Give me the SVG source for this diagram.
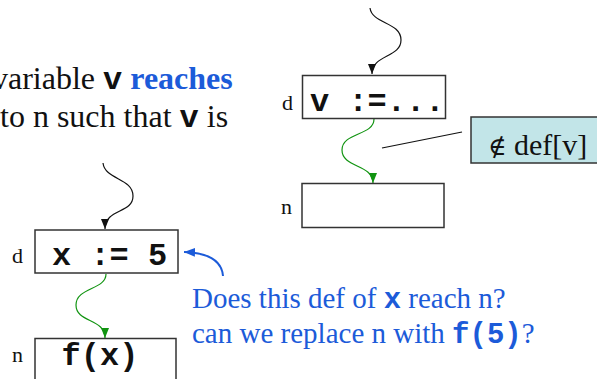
<svg xmlns="http://www.w3.org/2000/svg" width="597" height="379" viewBox="0 0 597 379">
<defs>
<style>
.serif{font-family:"Liberation Serif","Times New Roman",serif;}
.mono{font-family:"Liberation Mono","Courier New",monospace;font-weight:bold;}
.box{fill:#fff;stroke:#333;stroke-width:1.5;}
.lbl{font-family:"Liberation Serif","Times New Roman",serif;font-size:22px;fill:#111;}
.code{font-family:"Liberation Mono","Courier New",monospace;font-weight:bold;font-size:32px;fill:#111;}
.blk{fill:none;stroke:#111;stroke-width:1.2;marker-end:url(#ab);}
.grn{fill:none;stroke:#119411;stroke-width:1.2;marker-end:url(#ag);}
.blu{fill:none;stroke:#1c5bd9;stroke-width:2;marker-end:url(#al);}
</style>
<marker id="ab" viewBox="0 0 10 8" refX="10" refY="4" markerWidth="10" markerHeight="8" markerUnits="userSpaceOnUse" orient="auto"><path d="M0,0 L10,4 L0,8 z" fill="#111"/></marker>
<marker id="ag" viewBox="0 0 10 8" refX="10" refY="4" markerWidth="10" markerHeight="8" markerUnits="userSpaceOnUse" orient="auto"><path d="M0,0 L10,4 L0,8 z" fill="#119411"/></marker>
<marker id="al" viewBox="0 0 10 8" refX="10" refY="4" markerWidth="11" markerHeight="9" markerUnits="userSpaceOnUse" orient="auto"><path d="M0,0 L10,4 L0,8 z" fill="#1c5bd9"/></marker>
</defs>

<g id="intro" class="serif" font-size="32" fill="#111">
<text x="-8" y="89">variable <tspan class="mono">v</tspan> <tspan font-weight="bold" fill="#1c5bd9">reaches</tspan></text>
<text x="0" y="127">to n such that <tspan class="mono">v</tspan> is</text>
</g>

<g id="connectors">
<path class="blk" d="M370,8 C372,24 401,22 401,40 C401,58 372,54 372,74"/>
<path class="grn" d="M374,119 C374,136 342,132 342,150 C342,168 373,164 373,183"/>
<line x1="462" y1="132" x2="382" y2="148" stroke="#111" stroke-width="1.2"/>
<path class="blk" d="M103,163 C105,180 133,178 133,196 C133,214 105,208 105,229"/>
<path class="grn" d="M106,274 C106,290 76,287 76,305 C76,323 105,318 105,338"/>
<path class="blu" d="M223,276 C222,262 210,253 184,252"/>
</g>

<g id="right-d">
<text class="lbl" x="282" y="110">d</text>
<rect class="box" x="302.5" y="75.5" width="143" height="43"/>
<text class="code" x="310" y="111">v :=...</text>
</g>

<g id="right-n">
<text class="lbl" x="281" y="214">n</text>
<rect class="box" x="302" y="183.5" width="142" height="44"/>
</g>

<g id="notdef">
<rect x="471" y="117" width="130" height="46" fill="#c2e5e8" stroke="#333" stroke-width="1.5"/>
<text class="serif" x="488" y="155" font-size="30" fill="#111"><tspan font-size="25" font-family="DejaVu Serif, serif">∉</tspan> def[v]</text>
</g>

<g id="left-d">
<text class="lbl" x="12" y="263">d</text>
<rect class="box" x="35" y="230" width="143" height="43"/>
<text class="code" x="52" y="265">x := 5</text>
</g>

<g id="left-n">
<text class="lbl" x="12" y="362">n</text>
<rect class="box" x="35" y="338.5" width="141" height="50"/>
<text class="code" x="100" y="365" text-anchor="middle">f(x)</text>
</g>

<g id="question" class="serif" font-size="29" fill="#1c5bd9">
<text x="192" y="308">Does this def of <tspan class="mono">x</tspan> reach n?</text>
<text x="192" y="343">can we replace n with <tspan class="mono">f(5)</tspan>?</text>
</g>
</svg>
